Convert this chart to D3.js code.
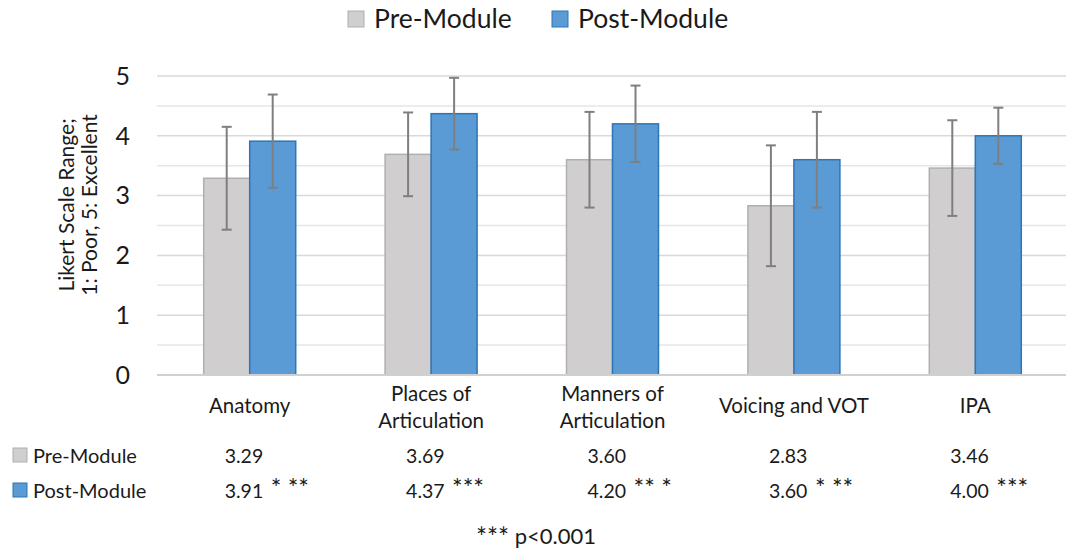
<!DOCTYPE html>
<html>
<head>
<meta charset="utf-8">
<style>
  body { margin: 0; background: #fff; }
  #chart { font-family: 'Lato', 'Open Sans', sans-serif; }
  #chart text { fill: #1a1a1a; }
</style>
</head>
<body>
<div id="chart"></div>
<script src="https://cdnjs.cloudflare.com/ajax/libs/d3/7.8.5/d3.min.js"></script>
<script>
  var categories = [["Anatomy"], ["Places of", "Articulation"], ["Manners of", "Articulation"], ["Voicing and VOT"], ["IPA"]];
  var seriesNames = ["Pre-Module", "Post-Module"];
  var preMeans = [3.29, 3.69, 3.60, 2.83, 3.46];
  var postMeans = [3.91, 4.37, 4.20, 3.60, 4.00];
  var preSD = [0.86, 0.70, 0.80, 1.01, 0.80];
  var postSD = [0.78, 0.60, 0.64, 0.80, 0.47];
  var postStars = ["* **", "***", "** *", "* **", "***"];
  var yTicks = [0, 1, 2, 3, 4, 5];
  var colors = { "Pre-Module": "#d0cece", "Post-Module": "#5b9bd5" };
  var strokes = { "Pre-Module": "#b0b0b0", "Post-Module": "#2e75b6" };

  var width = 1080, height = 554;
  var svg = d3.select("#chart").append("svg").attr("width", width).attr("height", height);

  var keys = categories.map(function(c) { return c.join(" "); });
  var x0 = d3.scaleBand().domain(keys).range([159, 1066]);
  var bw = x0.bandwidth();
  var x1 = d3.scaleBand().domain(seriesNames).range([bw / 2 - 46, bw / 2 + 46]);
  var y = d3.scaleLinear().domain([0, 5]).range([375, 76]);

  // gridlines
  var grid = d3.range(0.5, 5.01, 0.5);
  svg.selectAll(".grid").data(grid).enter().append("line")
    .attr("x1", 157).attr("x2", 1066)
    .attr("y1", function(d) { return y(d); })
    .attr("y2", function(d) { return y(d); })
    .attr("stroke", function(d) { return d % 1 === 0 ? "#d9d9d9" : "#e6e6e6"; })
    .attr("stroke-width", 1.5);

  // y ticks
  svg.selectAll(".ytick").data(yTicks).enter().append("text")
    .attr("x", 130).attr("y", function(d) { return y(d); })
    .attr("dy", "0.35em")
    .attr("text-anchor", "end")
    .style("font-size", "25px")
    .text(function(d) { return d; });

  // y title
  var yt = svg.append("text")
    .attr("transform", "translate(74,205) rotate(-90)")
    .attr("text-anchor", "middle")
    .style("font-size", "21px");
  yt.append("tspan").attr("x", 0).attr("dy", 0).text("Likert Scale Range;");
  yt.append("tspan").attr("x", 0).attr("dy", 23).text("1: Poor, 5: Excellent");

  var rows = categories.map(function(c, i) {
    return { key: keys[i], vals: [
      { s: "Pre-Module", v: preMeans[i], sd: preSD[i] },
      { s: "Post-Module", v: postMeans[i], sd: postSD[i] }
    ] };
  });

  var g = svg.selectAll(".grp").data(rows).enter().append("g")
    .attr("transform", function(d) { return "translate(" + x0(d.key) + ",0)"; });

  g.selectAll("rect").data(function(d) { return d.vals; }).enter().append("rect")
    .attr("x", function(d) { return x1(d.s); })
    .attr("width", x1.bandwidth())
    .attr("y", function(d) { return y(d.v); })
    .attr("height", function(d) { return y(0) - y(d.v); })
    .attr("fill", function(d) { return colors[d.s]; })
    .attr("stroke", function(d) { return strokes[d.s]; })
    .attr("stroke-width", 1.5);

  // error bars
  var eb = g.selectAll(".eb").data(function(d) { return d.vals; }).enter().append("g")
    .attr("stroke", "#7f7f7f").attr("stroke-width", 2);
  eb.append("line")
    .attr("x1", function(d) { return x1(d.s) + x1.bandwidth() / 2; })
    .attr("x2", function(d) { return x1(d.s) + x1.bandwidth() / 2; })
    .attr("y1", function(d) { return y(d.v + d.sd); })
    .attr("y2", function(d) { return y(d.v - d.sd); });
  [1, -1].forEach(function(sign) {
    eb.append("line")
      .attr("x1", function(d) { return x1(d.s) + x1.bandwidth() / 2 - 5; })
      .attr("x2", function(d) { return x1(d.s) + x1.bandwidth() / 2 + 5; })
      .attr("y1", function(d) { return y(d.v + sign * d.sd); })
      .attr("y2", function(d) { return y(d.v + sign * d.sd); });
  });

  // axis line
  svg.append("line").attr("x1", 157).attr("x2", 1066)
    .attr("y1", y(0)).attr("y2", y(0))
    .attr("stroke", "#d0d0d0").attr("stroke-width", 2);

  // category labels
  var cl = svg.selectAll(".cat").data(categories).enter().append("text")
    .attr("text-anchor", "middle")
    .style("font-size", "20.5px")
    .attr("transform", function(d, i) {
      var cy = d.length === 1 ? 413 : 401;
      return "translate(" + (x0(keys[i]) + bw / 2) + "," + cy + ")";
    });
  cl.selectAll("tspan").data(function(d) { return d; }).enter().append("tspan")
    .attr("x", 0).attr("dy", function(d, i) { return i === 0 ? 0 : 27; })
    .text(function(d) { return d; });

  // top legend
  var legX = [348, 552];
  seriesNames.forEach(function(s, i) {
    svg.append("rect").attr("x", legX[i]).attr("y", 11).attr("width", 16).attr("height", 16)
      .attr("fill", colors[s]).attr("stroke", strokes[s]).attr("stroke-width", 1);
    svg.append("text").attr("x", legX[i] + 26).attr("y", 28)
      .style("font-size", "26.5px").text(s);
  });

  // data table
  var tableY = [463, 498];
  var tableVals = [preMeans, postMeans];
  seriesNames.forEach(function(s, r) {
    svg.append("rect").attr("x", 13).attr("y", tableY[r] - 15).attr("width", 14).attr("height", 14)
      .attr("fill", colors[s]).attr("stroke", strokes[s]).attr("stroke-width", 1);
    svg.append("text").attr("x", 33).attr("y", tableY[r])
      .style("font-size", "20px").text(s);
    svg.selectAll(".tv" + r).data(tableVals[r]).enter().append("text")
      .attr("x", function(d, i) { return x0(keys[i]) + bw / 2 - 25; })
      .attr("y", tableY[r])
      .style("font-size", "19.5px")
      .text(function(d) { return d.toFixed(2); });
  });
  svg.selectAll(".stars").data(postStars).enter().append("text")
    .attr("x", function(d, i) { return x0(keys[i]) + bw / 2 + 21; })
    .attr("y", 497)
    .style("font-size", "25px")
    .text(function(d) { return d; });

  svg.append("text").attr("x", 536).attr("y", 544)
    .attr("text-anchor", "middle")
    .style("font-size", "22px")
    .html("<tspan style='font-size:26px' dy='3'>***</tspan><tspan dy='-3'> p&lt;0.001</tspan>");
</script>
</body>
</html>
